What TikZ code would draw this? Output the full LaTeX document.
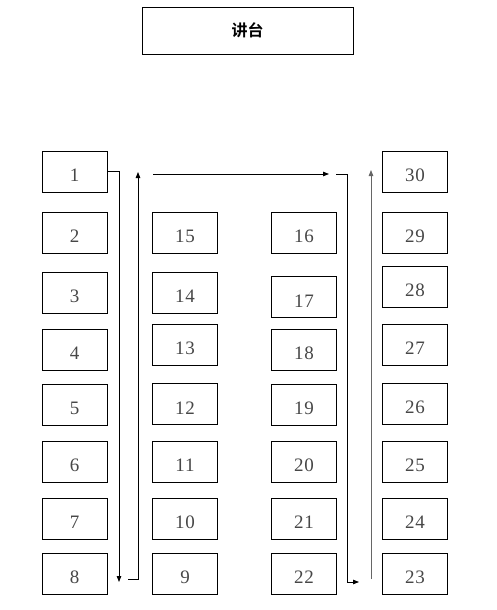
\documentclass[tikz,border=0pt]{standalone}
\usepackage{fontspec}
\setmainfont{Liberation Serif}
\newfontfamily\cjk{Noto Sans CJK SC}[BoldFont={Noto Sans CJK SC Bold}]
\newfontfamily\seatfont{Liberation Serif}[LetterSpace=4]
\usetikzlibrary{arrows.meta}
\begin{document}
\begin{tikzpicture}[x=1pt,y=-1pt,
  seat/.style={draw, line width=0.8pt, minimum width=65pt, minimum height=41pt, inner sep=0pt,
    text height=20pt, text depth=0pt,
    font=\seatfont\fontsize{19}{19}\selectfont, text=black!72},
  podium/.style={draw, line width=0.8pt, minimum width=211pt, minimum height=47pt, inner sep=0pt,
    font=\cjk\bfseries\fontsize{16}{16}\selectfont},
  route/.style={line width=0.8pt, -{Triangle[length=6pt,width=4.5pt]}}]
\useasboundingbox (0,0) rectangle (496,610);
\node[podium] (podium) at (247.5,30.5) {讲台};
% column 1
\node[seat] (s1) at (74.5,171.5) {1};
\node[seat] (s2) at (74.5,232.5) {2};
\node[seat] (s3) at (74.5,292.5) {3};
\node[seat] (s4) at (74.5,349.5) {4};
\node[seat] (s5) at (74.5,404.5) {5};
\node[seat] (s6) at (74.5,461.5) {6};
\node[seat] (s7) at (74.5,518.5) {7};
\node[seat] (s8) at (74.5,573.5) {8};
% column 2
\node[seat] (s15) at (185,232.5) {15};
\node[seat] (s14) at (185,292.5) {14};
\node[seat] (s13) at (185,344.5) {13};
\node[seat] (s12) at (185,404) {12};
\node[seat] (s11) at (185,461.5) {11};
\node[seat] (s10) at (185,518.5) {10};
\node[seat] (s9) at (185,573.5) {9};
% column 3
\node[seat] (s16) at (304,232.5) {16};
\node[seat] (s17) at (304,297) {17};
\node[seat] (s18) at (304,349.5) {18};
\node[seat] (s19) at (304,404.5) {19};
\node[seat] (s20) at (304,461.5) {20};
\node[seat] (s21) at (304,518.5) {21};
\node[seat] (s22) at (304,573.5) {22};
% column 4
\node[seat] (s30) at (415,171.5) {30};
\node[seat] (s29) at (415,232.5) {29};
\node[seat] (s28) at (415,286.5) {28};
\node[seat] (s27) at (415,344.5) {27};
\node[seat] (s26) at (415,403.5) {26};
\node[seat] (s25) at (415,461.5) {25};
\node[seat] (s24) at (415,518.5) {24};
\node[seat] (s23) at (415,573.5) {23};
% route coordinates
\coordinate (a1end) at (119,582);
\coordinate (a2start) at (128,579);
\coordinate (a2end) at (138,172);
\coordinate (a3start) at (153,174);
\coordinate (a3end) at (329,174);
\coordinate (a4start) at (336,174);
\coordinate (a4end) at (359,582);
\coordinate (a5start) at (371,579);
\coordinate (a5end) at (371,170);
% routes
\draw[route] (s1.east) -| (a1end);
\draw[route] (a2start) -| (a2end);
\draw[route] (a3start) -- (a3end);
\draw[route] (a4start) -- (347,174) |- (a4end);
\draw[route, draw=black!60] (a5start) -- (a5end);
\end{tikzpicture}
\end{document}
